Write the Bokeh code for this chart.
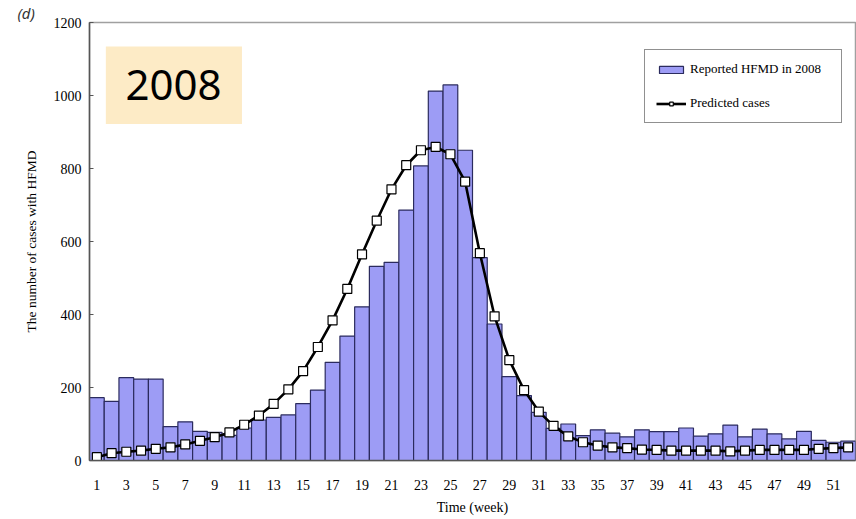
from bokeh.plotting import figure
from bokeh.models import (Range1d, FixedTicker, Label, BoxAnnotation, Legend, ColumnDataSource)
from bokeh.embed import file_html
from bokeh.resources import INLINE

weeks = list(range(1, 53))
reported = [172, 162, 227, 223, 223, 93, 106, 80, 77, 69,
            89, 111, 118, 125, 156, 193, 269, 341, 421, 532,
            543, 686, 807, 1012, 1029, 850, 556, 374, 230, 178,
            132, 88, 100, 68, 84, 75, 65, 84, 79, 79,
            89, 67, 73, 97, 65, 86, 73, 59, 80, 55,
            50, 53]
predicted = [9, 20, 24, 27, 32, 36, 44, 54, 64, 77,
             98, 123, 155, 195, 245, 311, 384, 470, 565, 657,
             743, 809, 850, 859, 839, 764, 568, 395, 275, 193,
             134, 95, 66, 50, 41, 36, 34, 30, 29, 27,
             27, 27, 27, 25, 27, 29, 29, 29, 29, 32,
             34, 36]
x_ticks = [1, 3, 5, 7, 9, 11, 13, 15, 17, 19, 21, 23, 25, 27, 29, 31, 33, 35,
           37, 39, 41, 43, 45, 47, 49, 51]
y_ticks = [0, 200, 400, 600, 800, 1000, 1200]

src = ColumnDataSource(dict(week=weeks, reported=reported, predicted=predicted))

SERIF = "Liberation Serif"

p = figure(width=856, height=519, output_backend="svg", toolbar_location=None,
           x_range=Range1d(0.5, 52.5), y_range=Range1d(0, 1200),
           min_border_left=89, min_border_right=1, min_border_top=20, min_border_bottom=59)
p.sizing_mode = "fixed"
p.background_fill_color = "white"
p.border_fill_color = "white"
p.outline_line_color = "#a0a0a0"
p.outline_line_width = 1.5
p.xgrid.visible = False
p.ygrid.visible = False

# panel tag "(d)" as the title, pushed left of the frame
p.title.text = "(d)"
p.title.text_font = "Noto Sans"
p.title.text_font_size = "15px"
p.title.text_font_style = "italic"
p.title.text_color = "#333333"
p.title.align = "left"
p.title.offset = -72
p.title.standoff = 0
p.title.vertical_align = "bottom"

bars = p.vbar(x="week", top="reported", width=1.0, bottom=0, source=src,
              fill_color="#9d9cf5", line_color="#2b2b5e", line_width=1.2)
ln = p.line(x="week", y="predicted", source=src, line_color="black", line_width=2.6)
pts = p.scatter(x="week", y="predicted", source=src, marker="square", size=9,
                fill_color="white", line_color="black", line_width=1.2)

# axes
p.xaxis.ticker = FixedTicker(ticks=x_ticks)
p.yaxis.ticker = FixedTicker(ticks=y_ticks)
for ax in (p.xaxis[0], p.yaxis[0]):
    ax.major_label_text_font = SERIF
    ax.major_label_text_font_size = "14px"
    ax.major_label_text_color = "black"
    ax.axis_label_text_font = SERIF
    ax.axis_label_text_font_style = "normal"
    ax.axis_label_text_color = "black"
    ax.minor_tick_line_color = None
    ax.axis_line_color = "#555555"
    ax.axis_line_width = 1.5
    ax.major_tick_line_color = "#555555"
p.xaxis.major_tick_in = 0
p.xaxis.major_tick_out = 0
p.xaxis.major_label_standoff = 19
p.xaxis.axis_label = "Time (week)"
p.xaxis.axis_label_text_font_size = "14px"
p.xaxis.axis_label_standoff = 7
p.yaxis.major_tick_in = 4
p.yaxis.major_tick_out = 0
p.yaxis.major_label_standoff = 8
p.yaxis.axis_label = "The number of cases with HFMD"
p.yaxis.axis_label_text_font_size = "13.5px"
p.yaxis.axis_label_standoff = 12

# legend
legend = Legend(items=[("Reported HFMD in 2008", [bars]), ("Predicted cases", [ln, pts])],
                location=(555, 337))
legend.label_text_font = SERIF
legend.label_text_font_size = "13px"
legend.label_text_color = "black"
legend.glyph_width = 30
legend.glyph_height = 9
legend.label_height = 9
legend.label_width = 140
legend.spacing = 18
legend.padding = 11
legend.margin = 0
legend.label_standoff = 4
legend.border_line_color = "#222222"
legend.border_line_width = 1.2
legend.background_fill_alpha = 1.0
p.add_layout(legend)

# year box
box = BoxAnnotation(left=1.61, right=10.85, bottom=922, top=1134,
                    fill_color="#fdebc6", fill_alpha=1.0, line_color=None)
p.add_layout(box)
p.add_layout(Label(x=6.2, y=1028, text="2008", text_font="Noto Sans",
                   text_font_size="42px", text_align="center", text_baseline="middle",
                   text_color="black"))

open("out.html", "w").write(file_html(p, INLINE))
